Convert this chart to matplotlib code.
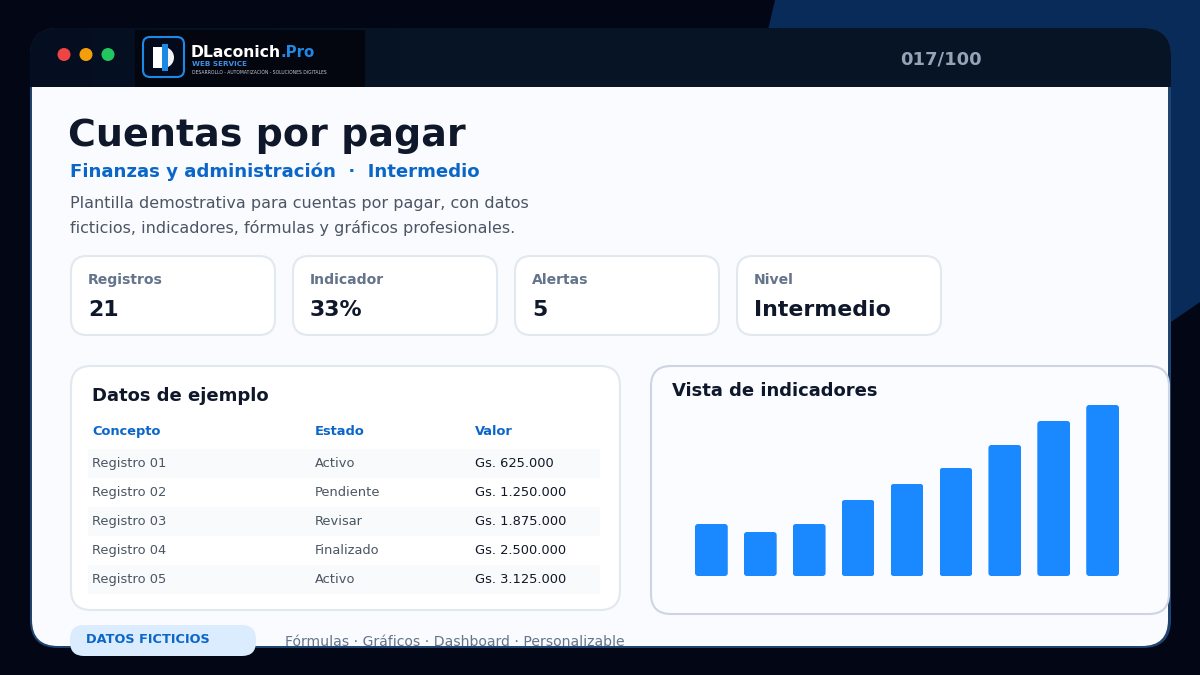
import matplotlib
matplotlib.use('Agg')
import matplotlib.pyplot as plt
import numpy as np
from matplotlib.patches import FancyBboxPatch, Rectangle, Circle, Polygon, Wedge
from matplotlib.transforms import IdentityTransform

plt.rcParams['font.family'] = ['DejaVu Sans']

# chart data
bar_values = [52, 44, 52, 76, 92, 108, 131, 155, 171]

# table data
table_headers = ['Concepto', 'Estado', 'Valor']
conceptos = ['Registro 01', 'Registro 02', 'Registro 03', 'Registro 04', 'Registro 05']
estados = ['Activo', 'Pendiente', 'Revisar', 'Finalizado', 'Activo']
valores = ['Gs. 625.000', 'Gs. 1.250.000', 'Gs. 1.875.000', 'Gs. 2.500.000', 'Gs. 3.125.000']

# kpi cards
card_labels = ['Registros', 'Indicador', 'Alertas', 'Nivel']
card_values = ['21', '33%', '5', 'Intermedio']

title = 'Cuentas por pagar'
subtitle = 'Finanzas y administración  ·  Intermedio'
desc_lines = ['Plantilla demostrativa para cuentas por pagar, con datos',
              'ficticios, indicadores, fórmulas y gráficos profesionales.']
footer = 'Fórmulas · Gráficos · Dashboard · Personalizable'
counter = '017/100'

fig = plt.figure(figsize=(12, 6.75), dpi=100, facecolor='#030615')
bg = fig.add_axes([0, 0, 1, 1])
bg.set_xlim(0, 1200)
bg.set_ylim(675, 0)
bg.axis('off')


def txt(x, y, s, px, color, weight='normal', **kw):
    return bg.text(x, y, s, fontsize=px * 0.72, color=color, fontweight=weight,
                   va='baseline', **kw)


def rbox(x0, y0, x1, y1, r, fc, ec='none', lw=0, z=1):
    p = FancyBboxPatch((x0 + r, y0 + r), x1 - x0 - 2 * r, y1 - y0 - 2 * r,
                       boxstyle='round,pad=%s,rounding_size=%s' % (r, r),
                       fc=fc, ec=ec, lw=lw, zorder=z)
    bg.add_patch(p)
    return p


# background shape
bg.add_patch(Polygon([(775, 0), (1200, 0), (1200, 302), (1171, 322), (700, 322)],
                     fc='#082b5a', ec='none', zorder=0))

# window
window = rbox(30, 28, 1171, 648, 28, '#1f4470', z=1)
body = rbox(32, 40, 1168, 646, 26, '#f9fbfe', z=2)
header = Rectangle((30, 28), 1141, 59, fc='#071426', ec='none', zorder=3)
bg.add_patch(header)
header.set_clip_path(window)
grad = bg.imshow(np.linspace(0, 1, 256).reshape(1, -1), extent=(30, 400, 87, 28),
                 cmap=matplotlib.colors.LinearSegmentedColormap.from_list('h', ['#040e20', '#071426']),
                 aspect='auto', zorder=3.1)
grad.set_clip_path(window)
bg.set_xlim(0, 1200)
bg.set_ylim(675, 0)

for cx, c in zip([64, 86, 108], ['#ef4444', '#f59e0b', '#22c55e']):
    bg.add_patch(Circle((cx, 54.5), 6.5, fc=c, ec='none', zorder=4))

# logo
bg.add_patch(Rectangle((135, 30), 230, 57, fc='#03050f', ec='none', zorder=4))
rbox(143, 37, 184, 77, 7, '#030a1c', ec='#1e88e5', lw=1.5, z=5)
bg.add_patch(Rectangle((153, 47), 9, 21, fc='white', ec='none', zorder=6))
bg.add_patch(Wedge((163.5, 57.5), 10.5, -90, 90, fc='#f2f2f2', ec='none', zorder=6))
bg.add_patch(Rectangle((162, 44), 5.5, 27, fc='#1e88e5', ec='none', zorder=7))
txt(191, 57, 'DLaconich', 15.6, 'white', 'bold', zorder=6)
txt(281, 57, '.Pro', 15, '#1e88e5', 'bold', zorder=6)
txt(192, 66, 'WEB SERVICE', 7.3, '#3f8fe0', 'bold', zorder=6)
txt(192, 74, 'DESARROLLO - AUTOMATIZACIÓN - SOLUCIONES DIGITALES', 4.5, '#c8ccd4', zorder=6)

txt(941, 65, counter, 18, '#94a3b8', 'bold', ha='center', zorder=6)

# heading
txt(68, 146, title, 38, '#0f172a', 'bold', zorder=6)
txt(70, 177, subtitle, 18.1, '#0a66c8', 'bold', zorder=6)
txt(70, 208, desc_lines[0], 15.97, '#4b5563', zorder=6)
txt(70, 233, desc_lines[1], 15.97, '#4b5563', zorder=6)

# kpi cards
for i, (lab, val) in enumerate(zip(card_labels, card_values)):
    x0 = 71 + 222 * i
    rbox(x0, 256, x0 + 204, 335, 16, 'white', ec='#e2e8f0', lw=1.5, z=5)
    txt(x0 + 17, 284, lab, 14, '#64748b', 'bold', zorder=6)
    txt(x0 + 17, 316, val, 22, '#0f172a', 'bold', zorder=6)

# table card
rbox(71, 366, 620, 610, 20, 'white', ec='#e2e8f0', lw=1.5, z=5)
txt(92, 401, 'Datos de ejemplo', 18, '#0f172a', 'bold', zorder=6)
col_x = [92, 315, 475]
for x, h in zip(col_x, table_headers):
    txt(x, 435, h, 13, '#0a66c8', 'bold', zorder=6)
for i, (a, b, c) in enumerate(zip(conceptos, estados, valores)):
    y = 449 + 29 * i
    if i % 2 == 0:
        bg.add_patch(Rectangle((88, y), 512, 29, fc='#f8fafc', ec='none', zorder=5.5))
    txt(col_x[0], y + 18, a, 13, '#4b5563', zorder=6)
    txt(col_x[1], y + 18, b, 13, '#4b5563', zorder=6)
    txt(col_x[2], y + 18, c, 13, '#111827', zorder=6)

# chart card
rbox(651, 366, 1169, 614, 20, '#fafcff', ec='#cdd5e3', lw=1.5, z=5)
txt(672, 396, 'Vista de indicadores', 18, '#0f172a', 'bold', zorder=6)

ax = fig.add_axes([695 / 1200, (675 - 576) / 675, (1119 - 695) / 1200, 171 / 675], zorder=10)
ax.patch.set_alpha(0)
positions = np.arange(len(bar_values))
bars = ax.bar(positions, bar_values, width=0.67, color='#1a88ff', linewidth=0)
ax.set_xlim(-0.335, len(bar_values) - 1 + 0.335)
ax.set_ylim(0, 171)
ax.axis('off')
for b in bars:
    (x0, y0), (x1, y1) = ax.transData.transform([(b.get_x(), 0), (b.get_x() + b.get_width(), b.get_height())])
    clip = FancyBboxPatch((x0 + 3, y0 + 3), x1 - x0 - 6, y1 - y0 - 6,
                          boxstyle='round,pad=3,rounding_size=3', transform=IdentityTransform())
    b.set_clip_path(clip)

# footer
rbox(70, 625, 256, 656, 14, '#dcecff', z=7)
txt(86, 643, 'DATOS FICTICIOS', 12.95, '#0a66c8', 'bold', zorder=8)
ft = txt(285, 646, footer, 13.98, '#64748b', zorder=6)
ft.set_clip_path(Rectangle((0, 0), 1200, 645, transform=bg.transData))

fig.savefig('out.png', dpi=100, facecolor=fig.get_facecolor())
